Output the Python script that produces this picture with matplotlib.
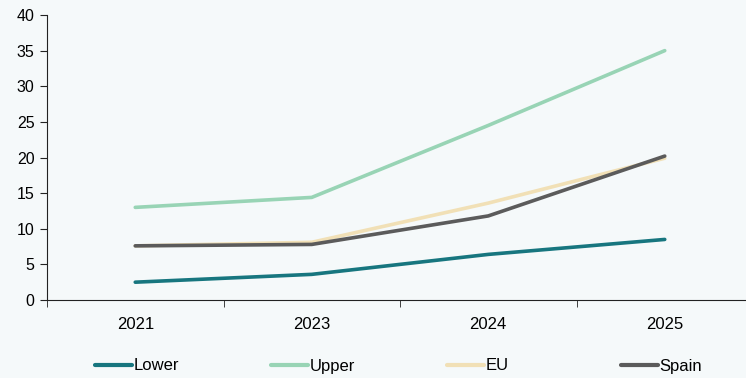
import numpy as np
import matplotlib.pyplot as plt

plt.rcParams['font.family'] = ['Liberation Sans', 'DejaVu Sans']

# data
years = ["2021", "2023", "2024", "2025"]
lower = [2.5, 3.6, 6.4, 8.5]
upper = [13.0, 14.4, 24.5, 35.0]
eu = [7.6, 8.1, 13.6, 19.9]
spain = [7.6, 7.8, 11.8, 20.2]

bg = "#f5f9fa"
series = [
    ("Lower", lower, "#17767f"),
    ("Upper", upper, "#98d4b5"),
    ("EU", eu, "#f1e0b6"),
    ("Spain", spain, "#5b5b5b"),
]

fig = plt.figure(figsize=(7.46, 3.78), dpi=100, facecolor=bg)
ax = fig.add_axes([47/746, 1 - 300/378, 706/746, 285/378], facecolor=bg)

x = np.arange(len(years))
lines = []
for name, vals, col in series:
    ln, = ax.plot(x, vals, color=col, lw=2.6, label=name, solid_capstyle="round")
    lines.append(ln)

ax.set_xlim(-0.5, 3.5)
ax.set_ylim(0, 40)
ax.set_yticks(np.arange(0, 41, 5))
ax.set_xticks(x)
ax.set_xticklabels(years)
ax.set_xticks(np.arange(-0.5, 4, 1), minor=True)
ax.tick_params(axis="x", which="major", length=0, pad=12, labelsize=12)
ax.tick_params(axis="x", which="minor", length=5, direction="out", color="#222222")
ax.tick_params(axis="y", length=5, labelsize=11.5, pad=4, color="#222222")
for s in ("top", "right"):
    ax.spines[s].set_visible(False)
for s in ("left", "bottom"):
    ax.spines[s].set_color("#222222")

# legend entries spaced evenly along the bottom
starts = [95, 271, 447, 621]
for ln, px in zip(lines, starts):
    leg = fig.legend(handles=[ln], loc="center left",
                     bbox_to_anchor=(px/746, 1 - 366/378),
                     frameon=False, handlelength=2.2, handletextpad=0.1,
                     borderpad=0, borderaxespad=0, fontsize=12)
    for h in leg.legend_handles:
        h.set_linewidth(3)

fig.savefig("out.png", facecolor=bg)
